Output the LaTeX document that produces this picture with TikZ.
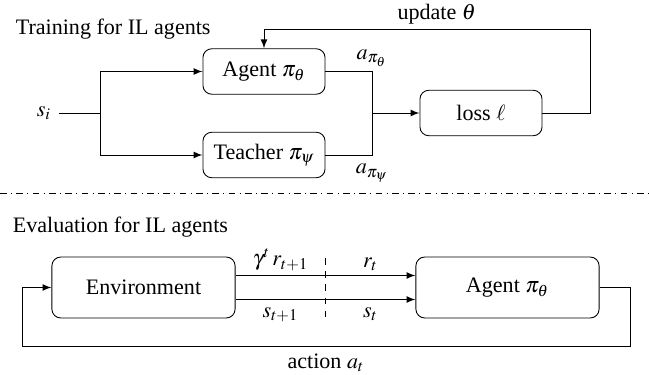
\documentclass[tikz,border=0pt]{standalone}
\usepackage{mathptmx}
\usepackage[no-math]{fontspec}
\setmainfont{Liberation Serif}
\usetikzlibrary{shapes, arrows, positioning, calc}

\begin{document}
\begin{tikzpicture}[x=0.453pt, y=-0.453pt, >=latex,
		block/.style={draw, rounded corners=4pt, minimum width=55.3pt, minimum height=20.6pt},
		bigblock/.style={block, minimum width=83pt, minimum height=27.6pt}]
	\useasboundingbox (0,0) rectangle (649,375);
	% training
	\node[anchor=base west] (train) at (8,35) {Training for IL agents};
	\node[block] (agent) at (264,71.5) {Agent $\pi_\theta$};
	\node[block] (teacher) at (264,155) {Teacher $\pi_\psi$};
	\node[block] (loss) at (481,113) {loss $\ell$};
	\node (si) at (44,113) {$s_i$};
	\coordinate (split) at (100,113);
	\coordinate (merge) at (372,113);
	\draw (si.east) -- (split);
	\draw[->] (split) |- (agent.west);
	\draw[->] (split) |- (teacher.west);
	\draw (agent.east) -| node[pos=0.5, above, inner sep=2pt] {$a_{\pi_\theta}$} (merge);
	\draw (teacher.east) -| node[pos=0.5, below, inner sep=4pt] {$a_{\pi_\psi}$} (merge);
	\draw[->] (merge) -- (loss.west);
	\draw[->] (loss.east) -- (590,113) -- (590,29) -| node[above, pos=0.235, inner sep=2pt] {update $\theta$} (agent.north);
	% separator
	\coordinate (sepl) at (0,193);
	\coordinate (sepr) at (649,193);
	\draw[dash dot] (sepl) -- (sepr);
	% evaluation
	\node[anchor=base west] (eval) at (5,232) {Evaluation for IL agents};
	\node[bigblock] (env) at (143.5,287.5) {Environment};
	\node[bigblock] (agentb) at (507.5,287.5) {Agent $\pi_\theta$};
	\draw[->] ($(env.east)+(0,-12)$) -- node[pos=0.25, above, inner sep=2pt] {$\gamma^t\, r_{t+1}$} node[pos=0.75, above, inner sep=2pt] {$r_t$} ($(agentb.west)+(0,-12)$);
	\draw[->] ($(env.east)+(0,12)$) -- node[pos=0.25, below] {$s_{t+1}$} node[pos=0.75, below] {$s_t$} ($(agentb.west)+(0,12)$);
	\coordinate (cuttop) at (325,258);
	\coordinate (cutbot) at (325,317);
	\draw[dashed] (cuttop) -- (cutbot);
	\draw[->] (agentb.east) -- (630,287.5) |- node[pos=0.75, below] {action $a_t$} (22,346) |- (env.west);
\end{tikzpicture}
\end{document}
